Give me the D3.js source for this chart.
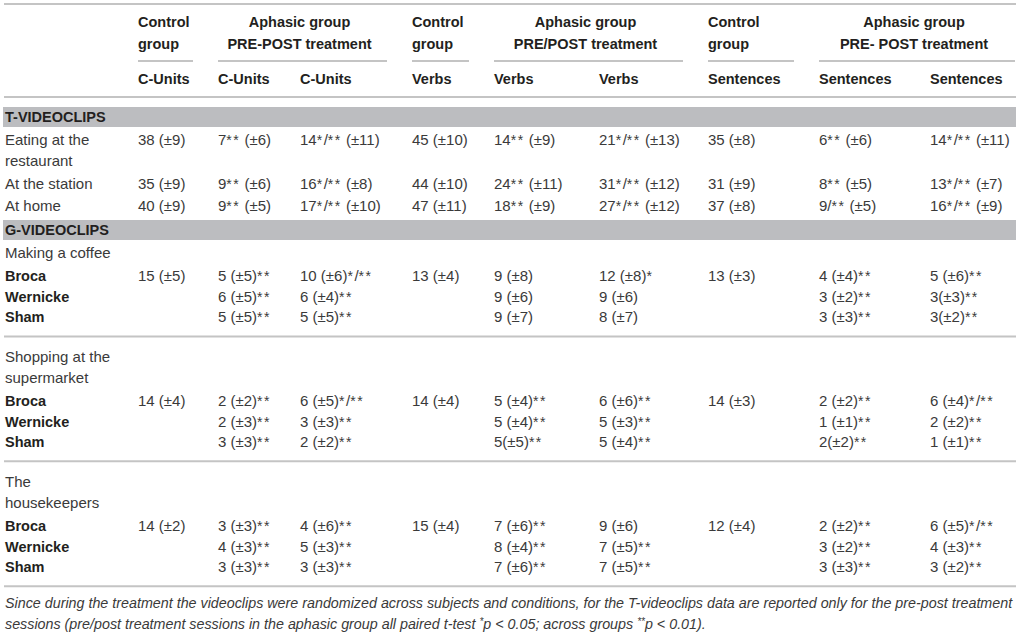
<!DOCTYPE html>
<html lang="en">
<head>
<meta charset="utf-8">
<title>videoclips table</title>
<script src="https://d3js.org/d3.v7.min.js"></script>
<style>
  body{ margin:0; background:#fff; }
  svg text{ font-family:"Liberation Sans", Arial, sans-serif; }
</style>
</head>
<body>
<div id="chart"></div>
<script>
// header texts
var groupLine1 = ["Control", "Aphasic group", "Control", "Aphasic group", "Control", "Aphasic group"]
var groupLine2 = ["group", "PRE-POST treatment", "group", "PRE/POST treatment", "group", "PRE- POST treatment"]
var groupSpan = [1, 2, 1, 2, 1, 2]
var measures = ["C-Units", "C-Units", "C-Units", "Verbs", "Verbs", "Verbs", "Sentences", "Sentences", "Sentences"]

// T-videoclips
var tClips = ["Eating at the\nrestaurant", "At the station", "At home"]
var tValues = [
  ["38 (±9)", "7** (±6)", "14*/** (±11)", "45 (±10)", "14** (±9)", "21*/** (±13)", "35 (±8)", "6** (±6)", "14*/** (±11)"],
  ["35 (±9)", "9** (±6)", "16*/** (±8)", "44 (±10)", "24** (±11)", "31*/** (±12)", "31 (±9)", "8** (±5)", "13*/** (±7)"],
  ["40 (±9)", "9** (±5)", "17*/** (±10)", "47 (±11)", "18** (±9)", "27*/** (±12)", "37 (±8)", "9/** (±5)", "16*/** (±9)"]
]

// G-videoclips
var gClips = ["Making a coffee", "Shopping at the\nsupermarket", "The\nhousekeepers"]
var groups = ["Broca", "Wernicke", "Sham"]
var gCoffee = [
  ["15 (±5)", "5 (±5)**", "10 (±6)*/**", "13 (±4)", "9 (±8)", "12 (±8)*", "13 (±3)", "4 (±4)**", "5 (±6)**"],
  ["", "6 (±5)**", "6 (±4)**", "", "9 (±6)", "9 (±6)", "", "3 (±2)**", "3(±3)**"],
  ["", "5 (±5)**", "5 (±5)**", "", "9 (±7)", "8 (±7)", "", "3 (±3)**", "3(±2)**"]
]
var gShopping = [
  ["14 (±4)", "2 (±2)**", "6 (±5)*/**", "14 (±4)", "5 (±4)**", "6 (±6)**", "14 (±3)", "2 (±2)**", "6 (±4)*/**"],
  ["", "2 (±3)**", "3 (±3)**", "", "5 (±4)**", "5 (±3)**", "", "1 (±1)**", "2 (±2)**"],
  ["", "3 (±3)**", "2 (±2)**", "", "5(±5)**", "5 (±4)**", "", "2(±2)**", "1 (±1)**"]
]
var gHouse = [
  ["14 (±2)", "3 (±3)**", "4 (±6)**", "15 (±4)", "7 (±6)**", "9 (±6)", "12 (±4)", "2 (±2)**", "6 (±5)*/**"],
  ["", "4 (±3)**", "5 (±3)**", "", "8 (±4)**", "7 (±5)**", "", "3 (±2)**", "4 (±3)**"],
  ["", "3 (±3)**", "3 (±3)**", "", "7 (±6)**", "7 (±5)**", "", "3 (±3)**", "3 (±2)**"]
]
var gValues = [gCoffee, gShopping, gHouse]

var footnote1 = "Since during the treatment the videoclips were randomized across subjects and conditions, for the T-videoclips data are reported only for the pre-post treatment"
var footnote2 = ["sessions (pre/post treatment sessions in the aphasic group all paired t-test ", "*", "p", " < 0.05; across groups ", "**", "p", " < 0.01)."]

var W = 1020, H = 636
var left = 4, right = 1016
var fsB = 14.5, fs = 15
var lh = 21
var ink = "#231f20", soft = "#3a3a3a", rule = "#c4c4c4", band = "#bcbdc0"

var svg = d3.select("#chart").append("svg").attr("width", W).attr("height", H)
svg.append("rect").attr("width", W).attr("height", H).attr("fill", "#fff")

// column positions
var x = d3.scaleOrdinal().domain(d3.range(measures.length))
  .range([138, 218, 300, 412, 494, 599, 708, 819, 930])

function hline(y, x1, x2){
  svg.append("line").attr("x1", x1).attr("x2", x2).attr("y1", y).attr("y2", y)
    .attr("stroke", rule).attr("stroke-width", 2)
}
function txt(xp, y, s, bold, anchor){
  return svg.append("text").attr("x", xp).attr("y", y).text(s)
    .attr("font-size", bold ? fsB : fs).attr("font-weight", bold ? "bold" : "normal")
    .attr("fill", bold ? ink : soft).attr("text-anchor", anchor || "start")
}
// value cell: asterisks spaced out a little
function cell(xp, y, s){
  var t = svg.append("text").attr("x", xp).attr("y", y)
    .attr("font-size", fs).attr("fill", soft)
  s.split(/(\*+)/).forEach(function(part){
    if(!part) return
    var sp = t.append("tspan").text(part)
    if(part[0] == "*") sp.attr("font-size", 14).attr("letter-spacing", 1.5)
  })
}
function multi(xp, y, s, bold){
  s.split("\n").forEach(function(part, i){ txt(xp, y + i*lh, part, bold) })
  return s.split("\n").length
}
function bandRow(y, label){
  svg.append("rect").attr("x", left-1).attr("y", y).attr("width", right-left+1).attr("height", 20).attr("fill", band)
  txt(5, y+15, label, true)
}

// header
hline(4, left, right)
var col = 0
groupLine1.forEach(function(g, i){
  var start = x(col)
  var end = (col + groupSpan[i] < measures.length) ? x(col + groupSpan[i]) - 25 : right - 1
  if(groupSpan[i] == 1){
    txt(start, 27, g, true)
    txt(start, 49, groupLine2[i], true)
  } else {
    var c = (start + end)/2 - 3
    txt(c, 27, g, true, "middle")
    txt(c, 49, groupLine2[i], true, "middle")
  }
  hline(61, start, end)
  col += groupSpan[i]
})
measures.forEach(function(m, i){ txt(x(i), 84, m, true) })
hline(97, left, right)

// T-videoclips
bandRow(107, "T-VIDEOCLIPS")
var y = 145
tClips.forEach(function(c, r){
  var n = multi(5, y, c, false)
  tValues[r].forEach(function(v, i){ cell(x(i), y, v) })
  y += n*lh + 1.5
})

// G-videoclips
bandRow(220, "G-VIDEOCLIPS")
y = 258
gClips.forEach(function(c, k){
  var n = multi(5, y, c, false)
  y += (n-1)*lh + 23
  groups.forEach(function(g, r){
    txt(5, y, g, true)
    gValues[k][r].forEach(function(v, i){ if(v) cell(x(i), y, v) })
    if(r < groups.length-1) y += 20.7
  })
  hline(y + 14, left, right)
  y += 39.5
})

// footnote
svg.append("text").attr("x", 5).attr("y", 608).text(footnote1)
  .attr("font-size", 14.3).attr("font-style", "italic").attr("fill", soft)
var f2 = svg.append("text").attr("x", 5).attr("y", 629)
  .attr("font-size", 14.3).attr("font-style", "italic").attr("fill", soft)
footnote2.forEach(function(s){
  var t = f2.append("tspan").text(s)
  if(s.indexOf("*") == 0) t.attr("dy", -4).attr("font-size", 10)
  if(s == "p") t.attr("dy", 4)
})
</script>
</body>
</html>
